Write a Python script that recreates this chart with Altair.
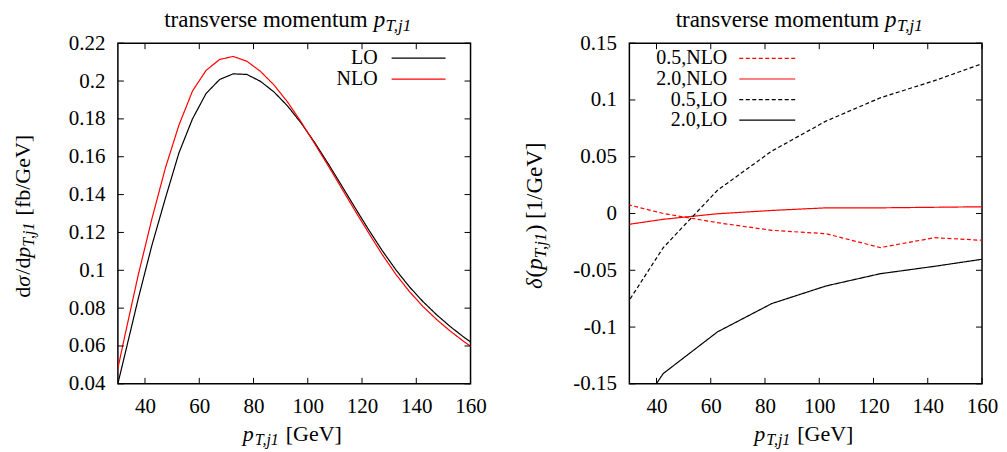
import altair as alt
import pandas as pd

FONT = "Liberation Serif"
W, H = 353, 341

# ---------------- data ----------------
pt_left = [27.5, 32.5, 37.5, 42.5, 47.5, 52.5, 57.5, 62.5, 67.5, 72.5, 77.5, 82.5, 87.5, 92.5,
           97.5, 102.5, 107.5, 112.5, 117.5, 122.5, 127.5, 132.5, 137.5, 142.5, 147.5, 152.5,
           157.5, 162.5]
lo_vals = [0.0253, 0.0550, 0.0850, 0.1130, 0.1380, 0.1620, 0.1800, 0.1934, 0.2008, 0.2038,
           0.2035, 0.1999, 0.1943, 0.1869, 0.1779, 0.1676, 0.1564, 0.1447, 0.1329, 0.1213,
           0.1103, 0.1002, 0.0912, 0.0834, 0.0765, 0.0703, 0.0647, 0.0596]
nlo_vals = [0.0314, 0.0650, 0.0975, 0.1270, 0.1540, 0.1767, 0.1947, 0.2056, 0.2114, 0.2130,
            0.2105, 0.2052, 0.1980, 0.1890, 0.1785, 0.1670, 0.1553, 0.1433, 0.1313, 0.1196,
            0.1082, 0.0978, 0.0887, 0.0808, 0.0740, 0.0679, 0.0624, 0.0574]

pt_right = [22.5, 42.5, 62.5, 82.5, 102.5, 122.5, 142.5, 162.5]
nlo_05 = [0.0120, 0.0000, -0.0081, -0.0148, -0.0178, -0.0300, -0.0213, -0.0239]
nlo_20 = [-0.0121, -0.0051, -0.0002, 0.0027, 0.0050, 0.0050, 0.0055, 0.0060]
lo_05 = [-0.1040, -0.0300, 0.0205, 0.0550, 0.0814, 0.1019, 0.1170, 0.1340]
lo_20 = [-0.2110, -0.1409, -0.1042, -0.0793, -0.0638, -0.0530, -0.0465, -0.0394]

left_series = ["LO", "NLO"]
right_series = ["0.5,NLO", "2.0,NLO", "0.5,LO", "2.0,LO"]
all_series = left_series + right_series
all_colors = ["#000000", "#ff0000", "#ff0000", "#ff0000", "#000000", "#000000"]
DASH = [4, 2.5]
SOLID = [1, 0]
all_dashes = [SOLID, SOLID, DASH, SOLID, DASH, SOLID]

x_ticks = [40, 60, 80, 100, 120, 140, 160]
y_ticks_left = [0.04, 0.06, 0.08, 0.10, 0.12, 0.14, 0.16, 0.18, 0.20, 0.22]
y_ticks_right = [-0.15, -0.10, -0.05, 0.0, 0.05, 0.10, 0.15]

left_df = pd.DataFrame({
    "pt": pt_left * 2,
    "val": lo_vals + nlo_vals,
    "series": ["LO"] * len(pt_left) + ["NLO"] * len(pt_left),
})
right_df = pd.DataFrame({
    "pt": pt_right * 4,
    "val": nlo_05 + nlo_20 + lo_05 + lo_20,
    "series": sum([[s] * len(pt_right) for s in right_series], []),
})

DUMMY = pd.DataFrame({"k": [0]})
CS = alt.Scale(domain=all_series, range=all_colors)
DS = alt.Scale(domain=all_series, range=all_dashes)


def piece(s, x, y, size=22, italic=False, angle=0, align="left"):
    kw = dict(text=s, font=FONT, fontSize=size,
              fontStyle="italic" if italic else "normal",
              align=align, baseline="alphabetic", color="black")
    if angle:
        kw["angle"] = angle
    return alt.Chart(DUMMY).mark_text(**kw).encode(x=alt.value(x), y=alt.value(y))


def title_pieces():
    return [
        piece("transverse momentum", 250, -16, size=23, align="right"),
        piece("p", 256, -16, size=23, italic=True),
        piece("T,j1", 268, -12, size=17, italic=True),
    ]


def xtitle_pieces():
    return [
        piece("p", 125, 398, italic=True),
        piece("T,j1", 137, 402, size=16, italic=True),
        piece("[GeV]", 168, 398),
    ]


def panel(df, series, y_dom, y_ticks, leg_y, leg_tx, leg_lx, ytitle):
    xs = alt.Scale(domain=[30, 160], nice=False, zero=False)
    ys = alt.Scale(domain=y_dom, nice=False, zero=False)
    xaxis = alt.Axis(values=x_ticks, title=None, ticks=False, tickSize=0, domain=False,
                     grid=False, labelPadding=12, labelFlush=False, labelOverlap=False,
                     labelFont=FONT, labelFontSize=21, labelColor="black")
    yaxis = alt.Axis(values=y_ticks, title=None, ticks=False, tickSize=0, domain=False,
                     grid=False, labelPadding=13, labelOverlap=False, labelFont=FONT,
                     labelFontSize=21, labelColor="black",
                     labelExpr="replace(format(datum.value, '.2~f'), '\u2212', '-')")

    lines = alt.Chart(df).mark_line(clip=True, strokeWidth=1.2).encode(
        x=alt.X("pt:Q", scale=xs, axis=xaxis),
        y=alt.Y("val:Q", scale=ys, axis=yaxis),
        color=alt.Color("series:N", scale=CS, legend=None),
        strokeDash=alt.StrokeDash("series:N", scale=DS, legend=None),
    )
    xt = pd.DataFrame({"t": x_ticks})
    yt = pd.DataFrame({"t": y_ticks})
    tk = dict(color="black", strokeWidth=1)
    tb = alt.Chart(xt).mark_rule(**tk).encode(
        x=alt.X("t:Q", scale=xs, axis=xaxis), y=alt.value(H), y2=alt.value(H - 6))
    tt = alt.Chart(xt).mark_rule(**tk).encode(
        x=alt.X("t:Q", scale=xs, axis=xaxis), y=alt.value(0), y2=alt.value(6))
    tl = alt.Chart(yt).mark_rule(**tk).encode(
        y=alt.Y("t:Q", scale=ys, axis=yaxis), x=alt.value(0), x2=alt.value(6))
    tr = alt.Chart(yt).mark_rule(**tk).encode(
        y=alt.Y("t:Q", scale=ys, axis=yaxis), x=alt.value(W - 6), x2=alt.value(W))
    data_layer = alt.layer(lines, tb, tt, tl, tr)

    n = len(series)
    leg_df = pd.DataFrame({"series": series, "row": list(range(n))})
    ls = alt.Scale(domain=[0, n - 1], range=leg_y)
    leg_text = alt.Chart(leg_df).mark_text(
        align="right", baseline="middle", font=FONT, fontSize=20, color="black").encode(
        x=alt.value(leg_tx), y=alt.Y("row:Q", scale=ls, axis=None), text="series:N")
    leg_rule = alt.Chart(leg_df).mark_rule(strokeWidth=1.2).encode(
        x=alt.value(leg_lx[0]), x2=alt.value(leg_lx[1]),
        y=alt.Y("row:Q", scale=ls, axis=None),
        color=alt.Color("series:N", scale=CS, legend=None),
        strokeDash=alt.StrokeDash("series:N", scale=DS, legend=None),
    )
    leg_layer = alt.layer(leg_text, leg_rule)

    texts = alt.layer(*(title_pieces() + xtitle_pieces() + ytitle))

    return alt.layer(data_layer, leg_layer, texts).resolve_scale(y="independent").properties(
        width=W, height=H)


left_ytitle = [
    piece("d", -88, 254.7, angle=270),
    piece("σ", -88, 243.7, italic=True, angle=270),
    piece("/d", -88, 231.7, angle=270),
    piece("p", -88, 214.7, italic=True, angle=270),
    piece("T,j1", -84, 203.7, size=16, italic=True, angle=270),
    piece("[fb/GeV]", -88, 172.4, angle=270),
]
right_ytitle = [
    piece("δ", -87, 246, size=23, italic=True, angle=270),
    piece("(", -87, 234.5, size=23, angle=270),
    piece("p", -87, 226.8, size=23, italic=True, angle=270),
    piece("T,j1", -83, 215.3, size=17, italic=True, angle=270),
    piece(")", -87, 189.3, size=23, angle=270),
    piece("[1/GeV]", -87, 176, size=23, angle=270),
]

left = panel(left_df, left_series, [0.04, 0.22], y_ticks_left,
             [15, 36], 260, [274, 328], left_ytitle)
right = panel(right_df, right_series, [-0.15, 0.15],
              y_ticks_right, [15.3, 77], 98, [110, 166], right_ytitle)

chart = alt.hconcat(left, right, spacing=159).properties(
    padding={"left": 3, "top": 0, "right": 0, "bottom": 0}, bounds="flush"
).configure_view(stroke="black", strokeWidth=1.5)

chart.save("out.html", embed_options={"renderer": "svg", "actions": False})
